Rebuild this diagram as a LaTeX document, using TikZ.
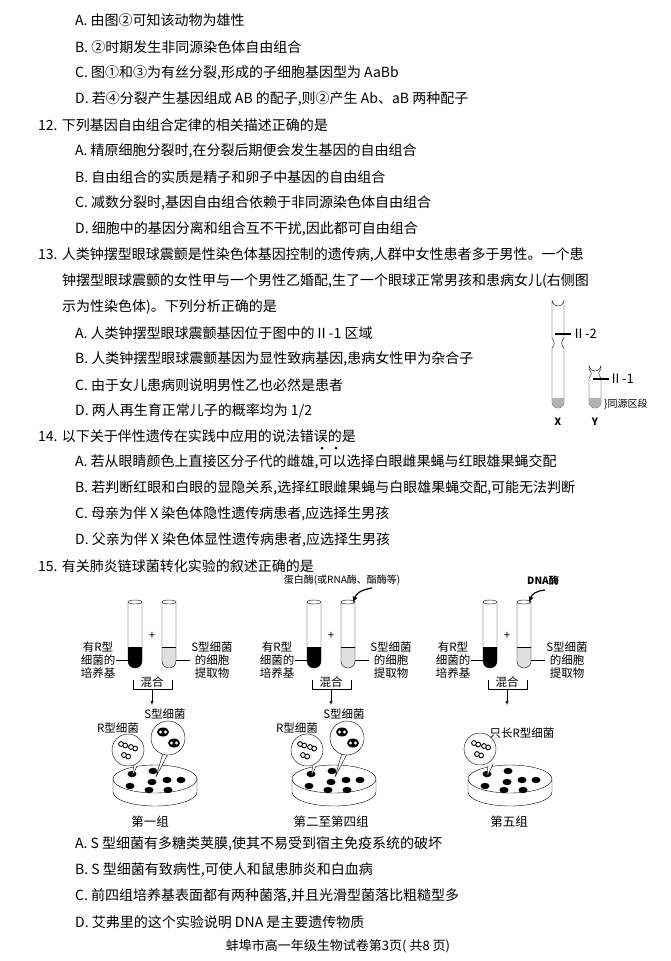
\documentclass[tikz,border=0pt]{standalone}
\usepackage{fontspec}
\setmainfont{Noto Sans CJK SC}
\begin{document}
\begin{tikzpicture}[x=1pt,y=-1pt,
  tl/.style={anchor=west,inner sep=0pt,font=\fontsize{14}{16}\selectfont},
  sm/.style={inner sep=0pt,font=\fontsize{11.5}{13}\selectfont,align=center}]
\useasboundingbox (0,0) rectangle (670,961);
\fill[white] (0,0) rectangle (670,961);
% text lines
\node[tl] at (75,20) {A. 由图②可知该动物为雄性};
\node[tl] at (75,47) {B. ②时期发生非同源染色体自由组合};
\node[tl] at (75,73) {C. 图①和③为有丝分裂,形成的子细胞基因型为 AaBb};
\node[tl] at (75,99) {D. 若④分裂产生基因组成 AB 的配子,则②产生 Ab、aB 两种配子};
\node[tl] at (38,125) {12. 下列基因自由组合定律的相关描述正确的是};
\node[tl] at (75,151) {A. 精原细胞分裂时,在分裂后期便会发生基因的自由组合};
\node[tl] at (75,177) {B. 自由组合的实质是精子和卵子中基因的自由组合};
\node[tl] at (75,203) {C. 减数分裂时,基因自由组合依赖于非同源染色体自由组合};
\node[tl] at (75,229) {D. 细胞中的基因分离和组合互不干扰,因此都可自由组合};
\node[tl] at (38,255) {13. 人类钟摆型眼球震颤是性染色体基因控制的遗传病,人群中女性患者多于男性。一个患};
\node[tl] at (62,281) {钟摆型眼球震颤的女性甲与一个男性乙婚配,生了一个眼球正常男孩和患病女儿(右侧图};
\node[tl] at (62,307) {示为性染色体)。下列分析正确的是};
\node[tl] at (75,333) {A. 人类钟摆型眼球震颤基因位于图中的Ⅱ-1 区域};
\node[tl] at (75,359) {B. 人类钟摆型眼球震颤基因为显性致病基因,患病女性甲为杂合子};
\node[tl] at (75,385) {C. 由于女儿患病则说明男性乙也必然是患者};
\node[tl] at (75,411) {D. 两人再生育正常儿子的概率均为 1/2};
\node[tl] at (38,436) {14. 以下关于伴性遗传在实践中应用的说法错误的是};
\fill (322,448) circle (1.5) (336,448) circle (1.5);
\node[tl] at (75,462) {A. 若从眼睛颜色上直接区分子代的雌雄,可以选择白眼雌果蝇与红眼雄果蝇交配};
\node[tl] at (75,488) {B. 若判断红眼和白眼的显隐关系,选择红眼雌果蝇与白眼雄果蝇交配,可能无法判断};
\node[tl] at (75,514) {C. 母亲为伴 X 染色体隐性遗传病患者,应选择生男孩};
\node[tl] at (75,540) {D. 父亲为伴 X 染色体显性遗传病患者,应选择生男孩};
\node[tl] at (38,566) {15. 有关肺炎链球菌转化实验的叙述正确的是};
\node[tl] at (75,844) {A. S 型细菌有多糖类荚膜,使其不易受到宿主免疫系统的破坏};
\node[tl] at (75,870) {B. S 型细菌有致病性,可使人和鼠患肺炎和白血病};
\node[tl] at (75,896) {C. 前四组培养基表面都有两种菌落,并且光滑型菌落比粗糙型多};
\node[tl] at (75,922) {D. 艾弗里的这个实验说明 DNA 是主要遗传物质};
\node[inner sep=0pt,font=\fontsize{13}{15}\selectfont] at (338,946) {蚌埠市高一年级生物试卷第3页( 共8 页)};
% chromosomes
\draw[fill=white] (552,300) arc[start angle=180,end angle=0,radius=6] -- (564,338) .. controls (561,341) and (561,345) .. (564,348) -- (564,402) arc[start angle=0,end angle=180,radius=6] -- (552,348) .. controls (555,345) and (555,341) .. (552,338) -- cycle;
\fill[gray!60] (552,398) -- (564,398) -- (564,402) arc[start angle=0,end angle=180,radius=6] -- cycle;
\draw[line width=1.3] (555,334) -- (571,334);
\node[sm,anchor=west,font=\fontsize{13}{14}\selectfont] at (572,334) {Ⅱ-2};
\draw[fill=white] (589,365) arc[start angle=180,end angle=0,radius=6] -- (601,369) .. controls (598,372) and (598,375) .. (601,378) -- (601,402) arc[start angle=0,end angle=180,radius=6] -- (589,378) .. controls (592,375) and (592,372) .. (589,369) -- cycle;
\fill[gray!60] (589,398) -- (601,398) -- (601,402) arc[start angle=0,end angle=180,radius=6] -- cycle;
\draw[line width=1.3] (593,379) -- (609,379);
\node[sm,anchor=west,font=\fontsize{13}{14}\selectfont] at (609,379) {Ⅱ-1};
\node[sm,anchor=west,font=\fontsize{10}{11}\selectfont] at (604,404) {\}同源区段};
\node[sm,font=\bfseries\fontsize{10}{11}\selectfont] at (558,422) {X};
\node[sm,font=\bfseries\fontsize{10}{11}\selectfont] at (595,422) {Y};
% experiment groups
\foreach \dx in {0,179,355}{
\begin{scope}[xshift=\dx]
 \fill (128,647) -- (142,647) -- (142,661) arc[start angle=0,end angle=180,radius=7] -- cycle;
 \fill[gray!25] (162,647) -- (176,647) -- (176,661) arc[start angle=0,end angle=180,radius=7] -- cycle;
 \draw (128,602) -- (128,661) arc[start angle=180,end angle=0,radius=7] -- (142,602);
 \draw (135,602) ellipse (7 and 2);
 \draw (162,602) -- (162,661) arc[start angle=180,end angle=0,radius=7] -- (176,602);
 \draw (169,602) ellipse (7 and 2);
 \draw (162,647) -- (176,647);
 \node[sm] at (152,636) {+};
 \node[sm] at (98,660) {有R型\\细菌的\\培养基};
 \node[sm] at (212,660) {S型细菌\\的细胞\\提取物};
 \draw[line width=0.8] (116,660) -- (128,660) (176,660) -- (190,660);
 \draw (133,680) -- (133,689) -- (172,689) -- (172,680);
 \node[sm] at (152,682) {混合};
 \draw[-latex] (152,689) -- (152,705);
 % dish
 \draw[fill=white] (113,779) -- (113,792) arc[start angle=180,end angle=0,x radius=42,y radius=14] -- (197,779);
 \draw[fill=white] (155,779) ellipse (42 and 14);
 \foreach \p in {(132,774),(153,771),(152,782),(167,780),(181,780),(130,786),(149,790),(168,790)} \fill \p ellipse (4.5 and 3.2);
\end{scope}}
% bubbles group 1 and 2
\foreach \dx in {0,179}{
\begin{scope}[xshift=\dx]
 \draw[fill=white] (134,765) -- (132,777) -- (137,766);
 \draw[fill=white] (128,750) circle (16);
 \foreach \q in {(121,744),(131,747),(124,755)} {\draw[line width=0.9] \q circle (2.4) ++(4.2,1.5) circle (2.4);}
 \draw[fill=white] (163,753) -- (156,777) -- (168,754);
 \draw[fill=white] (168,738) circle (17);
 \fill (163,732) ellipse (6 and 4.5); \fill (174,743) ellipse (6 and 4.5);
 \fill[white] (160.5,732) circle (1.7) (165.5,732) circle (1.7) (171.5,743) circle (1.7) (176.5,743) circle (1.7);
 \node[sm] at (165,714) {S型细菌};
 \node[sm] at (118,728) {R型细菌};
\end{scope}}
\draw[fill=white] (488,765) -- (487,777) -- (493,764);
\draw[fill=white] (480,749) circle (16);
\foreach \q in {(474,743),(484,746),(477,754)} {\draw[line width=0.9] \q circle (2.4) ++(4.2,1.5) circle (2.4);}
\node[sm] at (522,733) {只长R型细菌};
% reagents
\node[sm,font=\fontsize{10}{12}\selectfont] at (342,580) {蛋白酶(或RNA酶、酯酶等)};
\draw[line width=1.2,-latex] (372,588) .. controls (360,590) and (356,594) .. (353,603);
\node[sm,font=\bfseries\fontsize{10}{12}\selectfont] at (543,581) {DNA酶};
\draw[line width=1.2,-latex] (545,590) .. controls (536,591) and (532,594) .. (529,603);
\node[sm,font=\fontsize{12.5}{14}\selectfont] at (150,822) {第一组};
\node[sm,font=\fontsize{12.5}{14}\selectfont] at (331,822) {第二至第四组};
\node[sm,font=\fontsize{12.5}{14}\selectfont] at (509,822) {第五组};
\end{tikzpicture}
\end{document}
